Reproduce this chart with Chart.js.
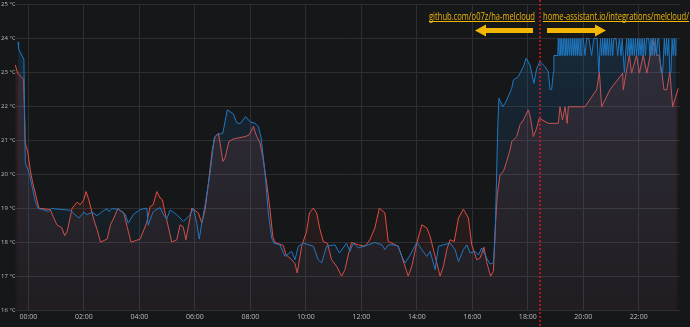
<!DOCTYPE html>
<html>
<head>
<meta charset="utf-8">
<script src="https://cdn.jsdelivr.net/npm/chart.js@4/dist/chart.umd.min.js"></script>
<style>
  html, body { margin: 0; padding: 0; background: #161719; }
  canvas { display: block; }
</style>
</head>
<body>
<canvas id="myChart" width="690" height="327"></canvas>
<script>
// hours since midnight (negative = the evening before), temperature in °C
const setTemp = [
  [-0.37,23.9],[-0.35,23.69],[-0.16,23.39],[-0.11,20.34],[-0.01,20.13],[0.07,19.9],[0.16,19.54],[0.25,19.2],[0.35,19.0],
  [0.74,18.9],[0.83,18.99],[1.51,18.94],[1.82,18.71],[2.0,18.88],[2.12,18.81],[2.3,18.88],[2.48,18.78],[2.66,18.9],
  [2.84,18.99],[2.9,18.9],[3.02,18.99],[3.26,18.96],[3.5,18.81],[3.6,18.56],[3.78,18.81],[4.03,18.96],[4.27,19.0],
  [4.32,18.5],[4.5,18.9],[4.75,19.02],[4.88,18.8],[4.99,18.68],[5.11,18.95],[5.35,18.81],[5.59,18.61],[5.83,18.81],
  [5.95,19.0],[6.07,18.56],[6.16,18.09],[6.25,18.56],[6.37,19.1],[6.55,20.03],[6.7,21.07],[6.79,21.16],[7.01,21.21],
  [7.17,21.9],[7.39,21.78],[7.51,21.52],[7.63,21.49],[7.83,21.7],[7.99,21.55],[8.17,21.5],[8.29,21.41],[8.39,21.07],
  [8.53,20.03],[8.65,18.86],[8.77,18.12],[8.85,17.97],[9.07,17.92],[9.25,17.58],[9.49,17.73],[9.61,17.48],[9.73,17.88],
  [9.91,17.97],[10.27,17.88],[10.45,17.48],[10.57,17.39],[10.75,17.88],[11.05,17.92],[11.21,17.68],[11.47,17.97],
  [11.59,17.73],[11.71,17.97],[11.89,17.83],[12.25,17.92],[12.49,17.99],[12.74,17.92],[12.85,17.78],[12.97,17.92],
  [13.15,17.92],[13.33,17.88],[13.46,17.58],[13.58,17.39],[13.76,17.62],[14.0,17.99],[14.18,17.78],[14.36,17.58],
  [14.48,17.73],[14.66,17.19],[14.78,17.88],[14.96,17.92],[15.2,17.97],[15.38,17.78],[15.5,17.43],[15.68,17.78],
  [15.8,17.92],[15.92,17.68],[16.1,17.73],[16.22,17.62],[16.34,17.83],[16.46,17.62],[16.64,17.35],[16.76,17.4],
  [16.82,18.12],[16.88,20.13],[16.92,21.46],[16.96,22.24],[17.1,21.99],[17.18,22.09],[17.24,22.19],[17.42,22.53],
  [17.48,22.78],[17.66,22.88],[17.72,22.98],[17.84,23.17],[17.94,23.42],[18.08,23.22],[18.22,22.68],[18.32,23.12],
  [18.44,23.32],[18.62,23.17],[18.74,23.02],[18.8,22.5],[18.86,22.5],[18.92,23.0],[18.94,23.5],[19.08,23.5],
  [19.1,24],[19.13,23.5],[19.16,24],[19.19,23.5],[19.22,24],[19.25,23.5],[19.28,24],[19.31,23.5],[19.34,24],
  [19.37,23.5],[19.4,24],[19.43,23.5],[19.46,24],[19.5,23.5],[19.53,24],[19.57,23.5],[19.6,24],[19.64,23.5],
  [19.67,24],[19.71,23.5],[19.74,24],[19.78,23.5],[19.81,24],[19.85,23.5],[19.88,24],[19.92,23.5],[19.95,24],
  [20.0,24],[20.06,23.5],[20.12,24],[20.2,24],[20.3,23.5],[20.38,24],[20.5,24],[20.56,23.0],[20.62,24],
  [20.66,23.5],[20.7,24],[20.74,23.5],[20.78,24],[20.82,23.5],[20.86,24],[20.9,23.5],[20.94,24],[20.98,23.5],
  [21.02,24],[21.06,23.5],[21.1,24],[21.18,24],[21.24,23.5],[21.3,24],[21.36,23.5],[21.4,24],[21.48,23.0],
  [21.56,24],[21.6,23.5],[21.64,24],[21.68,23.5],[21.72,24],[21.76,23.5],[21.8,24],[21.84,23.5],[21.88,24],
  [21.92,23.5],[21.96,24],[22.0,23.5],[22.04,24],[22.08,23.5],[22.12,24],[22.16,23.5],[22.2,24],[22.24,23.5],
  [22.28,24],[22.36,24],[22.4,23.5],[22.44,24],[22.48,23.5],[22.52,24],[22.56,23.5],[22.6,24],[22.64,23.5],
  [22.68,24],[22.72,24],[22.8,23.0],[22.86,23.0],[22.92,24],[22.96,23.5],[23.0,24],[23.04,23.5],[23.08,24],
  [23.12,23.0],[23.16,23.0],[23.2,24],[23.24,23.5],[23.28,24],[23.32,23.5],[23.34,24]
];

const roomTemp = [
  [-0.47,23.22],[-0.38,22.98],[-0.17,22.8],[-0.11,20.92],[-0.01,20.62],[0.07,20.13],[0.16,19.74],[0.25,19.45],[0.38,19.0],
  [0.79,18.96],[0.92,18.71],[1.03,18.51],[1.21,18.42],[1.31,18.19],[1.4,18.32],[1.58,19.0],[1.76,19.18],[1.87,19.1],
  [2.0,19.25],[2.08,19.49],[2.18,19.25],[2.36,18.66],[2.48,18.37],[2.6,18.0],[2.84,18.09],[2.96,18.51],[3.08,18.71],
  [3.23,18.99],[3.44,18.86],[3.56,18.46],[3.7,18.0],[4.03,18.09],[4.27,18.58],[4.39,19.05],[4.5,19.1],[4.63,19.49],
  [4.75,19.3],[4.83,19.25],[4.93,18.86],[5.17,18.0],[5.35,18.07],[5.47,18.51],[5.58,18.45],[5.68,18.07],[5.89,19.0],
  [6.13,18.86],[6.25,18.56],[6.31,18.75],[6.37,18.96],[6.49,19.74],[6.63,20.72],[6.73,21.11],[6.85,21.21],[6.91,20.92],
  [7.01,20.38],[7.09,20.48],[7.23,20.97],[7.39,21.04],[7.81,21.11],[7.96,21.16],[8.11,21.41],[8.21,21.16],[8.35,20.92],
  [8.45,20.52],[8.59,19.74],[8.71,18.96],[8.81,18.17],[8.89,17.99],[9.19,17.9],[9.29,17.62],[9.43,17.53],[9.61,17.37],
  [9.69,17.09],[9.85,17.88],[10.03,18.32],[10.13,18.86],[10.27,19.0],[10.39,18.86],[10.51,18.37],[10.63,18.02],
  [10.78,17.96],[10.93,17.48],[11.11,17.29],[11.29,17.0],[11.41,17.19],[11.53,17.62],[11.65,17.99],[11.89,17.92],
  [12.13,17.88],[12.31,18.07],[12.49,18.42],[12.65,19.0],[12.85,18.86],[12.97,18.02],[13.33,17.88],[13.46,17.58],
  [13.69,17.0],[13.82,17.29],[14.0,17.97],[14.18,18.51],[14.36,18.42],[14.48,18.17],[14.66,17.58],[14.84,17.0],
  [14.96,17.29],[15.08,17.78],[15.2,18.07],[15.35,18.02],[15.5,18.71],[15.68,18.97],[15.86,18.71],[15.98,17.92],
  [16.16,17.48],[16.28,17.53],[16.42,17.85],[16.52,17.4],[16.66,17.0],[16.76,17.14],[16.82,18.32],[16.9,19.4],
  [17.0,19.99],[17.12,20.08],[17.24,20.38],[17.36,20.72],[17.42,20.96],[17.6,21.11],[17.72,21.46],[17.84,21.6],
  [18.02,21.9],[18.1,21.65],[18.2,21.11],[18.32,21.36],[18.41,21.65],[18.74,21.5],[19.1,21.5],[19.16,21.99],
  [19.25,21.6],[19.34,21.99],[19.42,21.5],[19.46,21.99],[20.06,21.99],[20.48,22.49],[20.58,23.02],[20.66,21.99],
  [20.96,22.49],[21.42,22.98],[21.44,22.49],[21.54,22.98],[21.66,23.51],[21.74,22.98],[21.92,23.51],[22.02,22.98],
  [22.16,23.51],[22.29,22.98],[22.52,24.0],[22.65,23.51],[22.73,23.51],[22.83,23.02],[22.91,22.49],[23.01,22.49],
  [23.12,23.02],[23.22,21.99],[23.42,22.53]
];

const xTickHours = [0, 2, 4, 6, 8, 10, 12, 14, 16, 18, 20, 22];
const xTickLabels = ['00:00','02:00','04:00','06:00','08:00','10:00','12:00','14:00','16:00','18:00','20:00','22:00'];
const markerHour = 18.44;
const leftNote = 'github.com/o07z/ha-melcloud';
const rightNote = 'home-assistant.io/integrations/melcloud/';

function toPoints(rows) {
  return rows.map(r => ({x: r[0], y: r[1]}));
}

function areaFill(r, g, b, top, bottom) {
  return function(c) {
    const area = c.chart.chartArea;
    if (!area) return 'rgba(' + r + ',' + g + ',' + b + ',' + bottom + ')';
    const grad = c.chart.ctx.createLinearGradient(0, area.top, 0, area.bottom);
    grad.addColorStop(0, 'rgba(' + r + ',' + g + ',' + b + ',' + top + ')');
    grad.addColorStop(1, 'rgba(' + r + ',' + g + ',' + b + ',' + bottom + ')');
    return grad;
  };
}

function arrow(ctx, x0, x1, y) {
  // body + head, head at x1
  const dir = x1 > x0 ? 1 : -1;
  const head = 11;
  ctx.beginPath();
  ctx.moveTo(x0, y - 2.5);
  ctx.lineTo(x1 - dir * head, y - 2.5);
  ctx.lineTo(x1 - dir * head, y - 6);
  ctx.lineTo(x1, y);
  ctx.lineTo(x1 - dir * head, y + 6);
  ctx.lineTo(x1 - dir * head, y + 2.5);
  ctx.lineTo(x0, y + 2.5);
  ctx.closePath();
  ctx.fill();
}

const overlay = {
  id: 'overlay',
  afterDraw(chart) {
    const ctx = chart.ctx;
    const x = chart.scales.x.getPixelForValue(markerHour);
    ctx.save();
    // marker line
    ctx.strokeStyle = '#e3141c';
    ctx.lineWidth = 1.5;
    ctx.setLineDash([2, 2]);
    ctx.beginPath();
    ctx.moveTo(x, 0);
    ctx.lineTo(x, chart.height);
    ctx.stroke();
    ctx.setLineDash([]);

    // notes
    const col = '#f2b705';
    ctx.fillStyle = col;
    ctx.strokeStyle = col;
    ctx.lineWidth = 1;
    ctx.font = '10px "Open Sans"';
    ctx.textBaseline = 'alphabetic';
    const wl = 106, wr = 146;
    ctx.textAlign = 'left';
    ctx.fillText(leftNote, x - 5 - wl, 19.5, wl);
    ctx.beginPath(); ctx.moveTo(x - 5 - wl, 21.5); ctx.lineTo(x - 5, 21.5); ctx.stroke();
    ctx.fillText(rightNote, x + 3, 19.5, wr);
    ctx.beginPath(); ctx.moveTo(x + 3, 21.5); ctx.lineTo(x + 3 + wr, 21.5); ctx.stroke();

    arrow(ctx, x - 7, x - 65, 30.5);
    arrow(ctx, x + 7, x + 66, 30.5);
    ctx.restore();
  }
};

new Chart(document.getElementById('myChart'), {
  type: 'line',
  data: {
    datasets: [{
      label: 'set temperature',
      data: toPoints(setTemp),
      borderColor: '#1f78c1',
      borderWidth: 1,
      backgroundColor: areaFill(31, 120, 193, 0.2, 0.04),
      fill: 'start',
      pointRadius: 0,
      tension: 0
    }, {
      label: 'room temperature',
      data: toPoints(roomTemp),
      borderColor: '#e24d42',
      borderWidth: 1,
      backgroundColor: areaFill(226, 77, 66, 0.16, 0.05),
      fill: 'start',
      pointRadius: 0,
      tension: 0
    }]
  },
  options: {
    responsive: false,
    animation: false,
    layout: { padding: { top: 4, right: 10, left: 1, bottom: 0 } },
    plugins: { legend: { display: false }, tooltip: { enabled: false } },
    scales: {
      x: {
        type: 'linear',
        min: -0.48,
        max: 23.485,
        afterBuildTicks: function(scale) {
          scale.ticks = xTickHours.map(v => ({value: v}));
        },
        afterFit: function(scale) { scale.height = 17; },
        ticks: {
          color: '#b9bcc2',
          font: { family: 'Open Sans', size: 7 },
          padding: 3,
          maxRotation: 0,
          autoSkip: false,
          callback: function(v, i) { return xTickLabels[i]; }
        },
        grid: { color: '#2e2f33', drawTicks: false },
        border: { display: false }
      },
      y: {
        min: 16,
        max: 25,
        afterFit: function(scale) { scale.width = 14; },
        ticks: {
          stepSize: 1,
          color: '#b9bcc2',
          font: { family: 'Open Sans', size: 6 },
          padding: 1,
          crossAlign: 'far',
          callback: function(v) { return v + ' °C'; }
        },
        grid: { color: '#2e2f33', drawTicks: false },
        border: { display: false }
      }
    }
  },
  plugins: [overlay]
});
</script>
</body>
</html>
